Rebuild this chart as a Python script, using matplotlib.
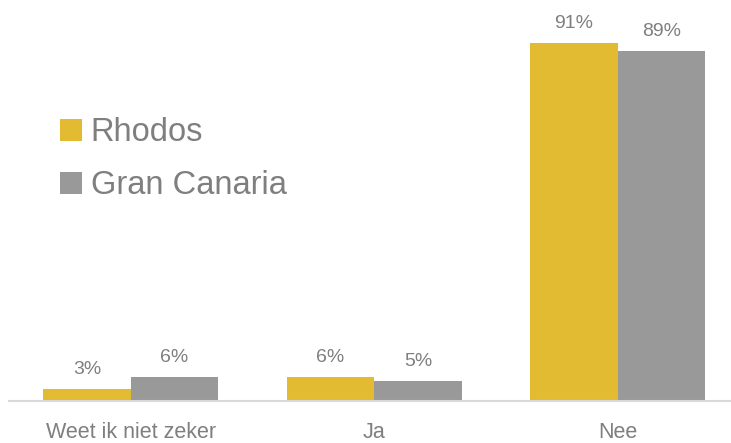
import matplotlib.pyplot as plt
import numpy as np

categories = ['Weet ik niet zeker', 'Ja', 'Nee']
rhodos = [3, 6, 91]
gran_canaria = [6, 5, 89]
series_names = ['Rhodos', 'Gran Canaria']

gold = '#E2BB33'
grey = '#999999'
txt = '#7F7F7F'

plt.rcParams['font.family'] = ['Liberation Sans', 'DejaVu Sans']

fig = plt.figure(figsize=(7.31, 4.43), dpi=100)
ax = fig.add_axes([9/731, 42/443, 1 - 9/731, 401/443])

x = np.arange(len(categories))
w = 0.36
b1 = ax.bar(x - w/2, rhodos, w, color=gold, label=series_names[0])
b2 = ax.bar(x + w/2, gran_canaria, w, color=grey, label=series_names[1])

for bars, vals in [(b1, rhodos), (b2, gran_canaria)]:
    for bar, v in zip(bars, vals):
        ax.annotate(f'{v}%', (bar.get_x() + bar.get_width()/2, v),
                    xytext=(0, 8), textcoords='offset points',
                    ha='center', va='bottom', fontsize=14, color=txt)

ax.set_xlim(-0.5, 2.465)
ax.set_ylim(0, 101.9)
ax.set_xticks(x)
ax.set_xticklabels(categories, fontsize=15.5, color=txt)
ax.tick_params(axis='x', length=0, pad=15)
ax.set_yticks([])
for s in ['top', 'right', 'left']:
    ax.spines[s].set_visible(False)
ax.spines['bottom'].set_color('#D9D9D9')
ax.spines['bottom'].set_linewidth(1.5)

leg = ax.legend(loc='upper left', bbox_to_anchor=(0.053, 0.74), frameon=False,
                fontsize=23.5, handlelength=0.65, handleheight=0.65,
                handletextpad=0.28, labelspacing=0.67, borderaxespad=0)
for t in leg.get_texts():
    t.set_color(txt)

fig.savefig('out.png', dpi=100)
